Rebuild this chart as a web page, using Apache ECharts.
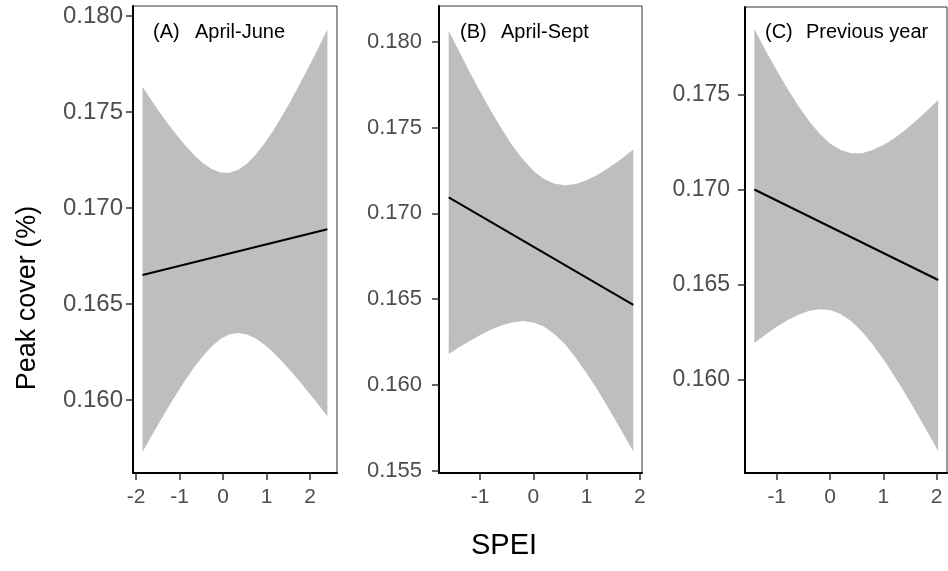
<!DOCTYPE html>
<html>
<head>
<meta charset="utf-8">
<script src="https://cdn.jsdelivr.net/npm/echarts@6/dist/echarts.min.js"></script>
<style>
  html, body { margin: 0; padding: 0; background: #fff; }
  #chart { width: 948px; height: 571px; }
</style>
</head>
<body>
<div id="chart"></div>
<script>
// values (SPEI vs peak cover)
var panelTags = ['(A)', '(B)', '(C)'];
var panelNames = ['April-June', 'April-Sept', 'Previous year'];

// (A) April-June
var aBandX = [-1.85, -1.65, -1.45, -1.25, -1.05, -0.85, -0.65, -0.45, -0.25, -0.05, 0.15, 0.35, 0.55, 0.75, 0.95, 1.15, 1.35, 1.55, 1.75, 1.95, 2.15, 2.4];
var aUpper = [0.17631, 0.17563, 0.17496, 0.17435, 0.17376, 0.17321, 0.17272, 0.17232, 0.17202, 0.17185, 0.17184, 0.17199,
              0.17231, 0.17277, 0.17335, 0.17401, 0.17476, 0.17555, 0.17639, 0.17725, 0.17815, 0.17930];
var aLower = [0.15730, 0.15810, 0.15888, 0.15965, 0.16039, 0.16109, 0.16174, 0.16232, 0.16282, 0.16319, 0.16343, 0.16349,
              0.16341, 0.16321, 0.16289, 0.16249, 0.16203, 0.16153, 0.16101, 0.16045, 0.15989, 0.15916];
var aLineX = [-1.85, 2.4];
var aLineY = [0.16651, 0.16889];

// (B) April-Sept
var bBandX = [-1.587, -1.4, -1.2, -1.0, -0.8, -0.6, -0.4, -0.2, 0.0, 0.2, 0.4, 0.6, 0.8, 1.0, 1.2, 1.4, 1.6, 1.876];
var bUpper = [0.18064, 0.17949, 0.17827, 0.17711, 0.17599, 0.17495, 0.17398, 0.17316, 0.17248, 0.17200, 0.17172, 0.17164,
              0.17171, 0.17192, 0.17223, 0.17262, 0.17305, 0.17372];
var bLower = [0.16180, 0.16218, 0.16255, 0.16290, 0.16321, 0.16347, 0.16364, 0.16372, 0.16364, 0.16340, 0.16296, 0.16235,
              0.16157, 0.16068, 0.15973, 0.15870, 0.15763, 0.15612];
var bLineX = [-1.587, 1.876];
var bLineY = [0.17093, 0.16467];

// (C) Previous year
var cBandX = [-1.42, -1.2, -1.0, -0.8, -0.6, -0.4, -0.2, 0.0, 0.2, 0.4, 0.6, 0.8, 1.0, 1.2, 1.4, 1.6, 1.8, 2.03];
var cUpper = [0.17842, 0.17726, 0.17626, 0.17530, 0.17441, 0.17362, 0.17294, 0.17242, 0.17207, 0.17190, 0.17191, 0.17207,
              0.17234, 0.17268, 0.17310, 0.17357, 0.17408, 0.17470];
var cLower = [0.16194, 0.16240, 0.16279, 0.16314, 0.16341, 0.16362, 0.16372, 0.16368, 0.16347, 0.16308, 0.16255, 0.16187,
              0.16110, 0.16024, 0.15934, 0.15839, 0.15742, 0.15628];
var cLineX = [-1.42, 2.03];
var cLineY = [0.1700, 0.16525];

var xTicksA = [-2, -1, 0, 1, 2];
var xTicksBC = [-1, 0, 1, 2];
var yTicksA = [0.160, 0.165, 0.170, 0.175, 0.180];
var yTicksB = [0.155, 0.160, 0.165, 0.170, 0.175, 0.180];
var yTicksC = [0.160, 0.165, 0.170, 0.175];

var FONT = '"Liberation Sans", Arial, sans-serif';

var panels = [
    { grid: { left: 133, top: 6, width: 204, height: 467 }, xMin: -2.069, xMax: 2.621, yMin: 0.1562, yMax: 0.18052,
      xTicks: xTicksA, yTicks: yTicksA, labelGap: 10, labelSize: 24,
      bandX: aBandX, upper: aUpper, lower: aLower, lineX: aLineX, lineY: aLineY },
    { grid: { left: 439, top: 6, width: 203, height: 467 }, xMin: -1.769, xMax: 2.039, yMin: 0.15487, yMax: 0.18208,
      xTicks: xTicksBC, yTicks: yTicksB, labelGap: 17, labelSize: 22,
      bandX: bBandX, upper: bUpper, lower: bLower, lineX: bLineX, lineY: bLineY },
    { grid: { left: 745, top: 7, width: 202, height: 466 }, xMin: -1.595, xMax: 2.195, yMin: 0.15512, yMax: 0.17958,
      xTicks: xTicksBC, yTicks: yTicksC, labelGap: 15, labelSize: 23,
      bandX: cBandX, upper: cUpper, lower: cLower, lineX: cLineX, lineY: cLineY }
];

var grids = [], xAxes = [], yAxes = [], series = [];

panels.forEach(function (p, i) {
    grids.push(Object.assign({ show: true, borderColor: '#333', borderWidth: 1, backgroundColor: '#fff' }, p.grid));
    xAxes.push({
        type: 'value', gridIndex: i, min: p.xMin, max: p.xMax,
        axisLine: { onZero: false, lineStyle: { color: '#000', width: 2 } },
        axisTick: { customValues: p.xTicks, length: 7, lineStyle: { color: '#333', width: 1.5 } },
        axisLabel: { customValues: p.xTicks, color: '#4d4d4d', fontSize: 21, fontFamily: FONT, margin: 14 },
        splitLine: { show: false }
    });
    yAxes.push({
        type: 'value', gridIndex: i, min: p.yMin, max: p.yMax,
        axisLine: { onZero: false, lineStyle: { color: '#000', width: 2 } },
        axisTick: { customValues: p.yTicks, length: 7, lineStyle: { color: '#333', width: 1.5 } },
        axisLabel: {
            customValues: p.yTicks, color: '#4d4d4d', fontSize: p.labelSize, fontFamily: FONT, margin: p.labelGap,
            formatter: function (v) { return v.toFixed(3); }
        },
        splitLine: { show: false }
    });
    // confidence band
    series.push({
        type: 'custom', xAxisIndex: i, yAxisIndex: i, silent: true, z: 1,
        data: [[p.bandX[0], p.lower[0]]],
        renderItem: function (params, api) {
            var pts = [];
            for (var k = 0; k < p.bandX.length; k++) pts.push(api.coord([p.bandX[k], p.upper[k]]));
            for (var k = p.bandX.length - 1; k >= 0; k--) pts.push(api.coord([p.bandX[k], p.lower[k]]));
            return { type: 'polygon', shape: { points: pts }, style: { fill: '#bebebe', stroke: null } };
        }
    });
    // fitted line
    series.push({
        type: 'line', xAxisIndex: i, yAxisIndex: i, z: 3, showSymbol: false, silent: true,
        data: p.lineX.map(function (x, k) { return [x, p.lineY[k]]; }),
        lineStyle: { color: '#000', width: 2 }
    });
});

var tagX = [153, 460, 765];
var nameX = [195, 501, 806];

var graphics = [];
panelTags.forEach(function (t, i) {
    graphics.push({ type: 'text', x: tagX[i], y: 32, z: 10,
        style: { text: t, fontSize: 20, fontFamily: FONT, fill: '#000', align: 'left', verticalAlign: 'middle', textAlign: 'left', textVerticalAlign: 'middle' } });
    graphics.push({ type: 'text', x: nameX[i], y: 32, z: 10,
        style: { text: panelNames[i], fontSize: 20, fontFamily: FONT, fill: '#000', align: 'left', verticalAlign: 'middle', textAlign: 'left', textVerticalAlign: 'middle' } });
});
graphics.push({ type: 'text', x: 28, y: 298, rotation: Math.PI / 2, z: 10,
    style: { text: 'Peak cover (%)', fontSize: 27, fontFamily: FONT, fill: '#000', align: 'center', verticalAlign: 'middle', textAlign: 'center', textVerticalAlign: 'middle' } });
graphics.push({ type: 'text', x: 504, y: 546, z: 10,
    style: { text: 'SPEI', fontSize: 29, fontFamily: FONT, fill: '#000', align: 'center', verticalAlign: 'middle', textAlign: 'center', textVerticalAlign: 'middle' } });

var myChart = echarts.init(document.getElementById('chart'));
var option = {
    animation: false,
    backgroundColor: '#fff',
    grid: grids,
    xAxis: xAxes,
    yAxis: yAxes,
    series: series,
    graphic: graphics
};
myChart.setOption(option);
</script>
</body>
</html>
